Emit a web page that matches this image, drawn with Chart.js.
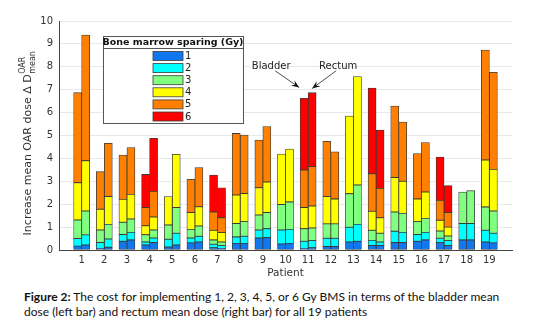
<!DOCTYPE html>
<html>
<head>
<meta charset="utf-8">
<script src="https://cdn.jsdelivr.net/npm/chart.js@4"></script>
<style>
  body { margin: 0; background: #fff; width: 533px; height: 326px; overflow: hidden; }
  #wrap { position: relative; width: 533px; height: 326px; }
  #chart { position: absolute; left: 0; top: 0; }
  #caption {
    position: absolute; left: 24px; top: 289px; width: 485px;
    font-family: Lato, "Liberation Sans", sans-serif; font-size: 12px; line-height: 15px; color: #111;
  }
</style>
</head>
<body>
<div id="wrap">
  <canvas id="chart" width="533" height="283"></canvas>
  <div id="caption"><b>Figure 2:</b> The cost for implementing 1, 2, 3, 4, 5, or 6 Gy BMS in terms of the bladder mean dose (left bar) and rectum mean dose (right bar) for all 19 patients</div>
</div>
<script>
const patients = ["1","2","3","4","5","6","7","8","9","10","11","12","13","14","15","16","17","18","19"];
const sparingLevels = ["1","2","3","4","5","6"];
const levelColors = ["#1177ee", "#00ffff", "#80ff80", "#ffff00", "#ff8000", "#ff0000"];
const yTicks = [0,1,2,3,4,5,6,7,8,9,10];

// cumulative heights (top of each segment), left bar = bladder
const bladderGy1 = [0.17,0.07,0.38,0.22,0.13,0.31,0.10,0.29,0.52,0.26,0.07,0.15,0.35,0.20,0.33,0.38,0.32,0.44,0.35];
const bladderGy2 = [0.50,0.33,0.68,0.35,0.47,0.52,0.25,0.57,0.87,0.87,0.38,0.51,0.99,0.42,0.82,0.68,0.51,1.16,0.86];
const bladderGy3 = [1.31,0.87,1.21,0.67,1.09,0.90,0.44,1.16,1.53,1.99,0.93,1.14,2.46,0.86,1.66,1.24,0.83,2.53,1.88];
const bladderGy4 = [2.94,1.78,2.21,1.06,2.33,1.64,0.86,2.40,2.72,4.19,1.86,2.33,5.85,1.69,3.17,2.23,1.30,null,3.93];
const bladderGy5 = [6.87,3.42,4.15,1.86,null,3.09,1.66,5.09,4.80,null,3.49,4.75,null,3.33,6.29,4.21,2.17,null,8.73];
const bladderGy6 = [null,null,null,3.30,null,null,3.27,null,null,null,6.62,null,null,7.07,null,null,4.06,null,null];

// right bar = rectum
const rectumGy1 = [0.22,0.12,0.44,0.33,0.22,0.35,0.07,0.29,0.55,0.29,0.10,0.15,0.38,0.20,0.33,0.44,0.20,0.44,0.31];
const rectumGy2 = [0.66,0.48,0.77,0.52,0.73,0.60,0.19,0.60,0.93,0.90,0.41,0.51,1.12,0.35,0.77,0.77,0.41,1.16,0.73];
const rectumGy3 = [1.70,1.12,1.35,0.87,1.86,1.05,0.35,1.24,1.64,2.10,0.96,1.14,2.84,0.73,1.60,1.38,0.61,2.59,1.70];
const rectumGy4 = [3.90,2.34,2.43,1.44,4.18,1.89,0.76,2.47,2.97,4.41,1.92,2.23,7.57,1.41,3.00,2.53,1.00,null,3.52];
const rectumGy5 = [9.39,4.66,4.47,2.56,null,3.60,1.41,5.02,5.39,null,3.64,4.29,null,2.69,5.59,4.69,1.64,null,7.76];
const rectumGy6 = [null,null,null,4.88,null,null,2.72,null,null,null,6.87,null,null,5.24,null,null,2.81,null,null];

const bladderLevels = [bladderGy1, bladderGy2, bladderGy3, bladderGy4, bladderGy5, bladderGy6];
const rectumLevels = [rectumGy1, rectumGy2, rectumGy3, rectumGy4, rectumGy5, rectumGy6];

// turn cumulative tops into segment heights, padded with an empty slot at each end (x range 0..20)
const segments = (levels) => levels.map((row, k) => {
  const seg = row.map((v, i) => {
    if (v == null) return null;
    let prev = 0;
    for (let j = k - 1; j >= 0; j--) {
      if (levels[j][i] != null) { prev = levels[j][i]; break; }
    }
    return +(v - prev).toFixed(3);
  });
  return [null, ...seg, null];
});

const bladderSeg = segments(bladderLevels);
const rectumSeg = segments(rectumLevels);

const makeSet = (stack, data, k) => ({
  label: sparingLevels[k],
  stack,
  data,
  backgroundColor: levelColors[k],
  borderColor: "#3a3a3a",
  borderWidth: 0.8,
  borderSkipped: false,
  barThickness: 8,
});

const datasets = [
  ...bladderSeg.map((d, k) => makeSet("bladder", d, k)),
  ...rectumSeg.map((d, k) => makeSet("rectum", d, k)),
];

const FONT = "'DejaVu Sans', sans-serif";

const decorations = {
  id: "decorations",
  afterDraw(chart) {
    const { ctx, chartArea, scales } = chart;
    const x = scales.x, y = scales.y;
    ctx.save();

    // y axis title with super/subscript
    ctx.translate(28, (chartArea.top + chartArea.bottom) / 2 + 8);
    ctx.rotate(-Math.PI / 2);
    ctx.fillStyle = "#333";
    ctx.textBaseline = "middle";
    ctx.font = `11px ${FONT}`;
    const main = "Increase mean OAR dose \u0394 D";
    const mw = ctx.measureText(main).width;
    ctx.font = `8px ${FONT}`;
    const sw = Math.max(ctx.measureText("OAR").width, ctx.measureText("mean").width);
    const x0 = -(mw + sw) / 2;
    ctx.font = `11px ${FONT}`;
    ctx.textAlign = "left";
    ctx.fillText(main, x0, 0);
    ctx.font = `8px ${FONT}`;
    ctx.fillText("OAR", x0 + mw + 0.5, -5);
    ctx.fillText("mean", x0 + mw + 0.5, 5);
    ctx.setTransform(1, 0, 0, 1, 0, 0);

    // legend box
    const bx = chartArea.left + 44, by = chartArea.top + 15, bw = 140, bh = 87;
    ctx.fillStyle = "#fff";
    ctx.fillRect(bx, by, bw, bh);
    ctx.strokeStyle = "#555";
    ctx.lineWidth = 1;
    ctx.strokeRect(bx + 0.5, by + 0.5, bw, bh);
    ctx.beginPath();
    ctx.moveTo(bx, by + 12.5);
    ctx.lineTo(bx + bw, by + 12.5);
    ctx.stroke();
    ctx.fillStyle = "#111";
    ctx.font = `bold 9.5px ${FONT}`;
    ctx.textAlign = "center";
    ctx.textBaseline = "middle";
    ctx.fillText("Bone marrow sparing (Gy)", bx + bw / 2, by + 6.5);
    ctx.font = `10px ${FONT}`;
    ctx.textAlign = "left";
    sparingLevels.forEach((lab, k) => {
      const cy = by + 20 + k * 12.1;
      ctx.fillStyle = levelColors[k];
      ctx.fillRect(bx + 50, cy - 4.5, 30, 9);
      ctx.strokeStyle = "#3a3a3a";
      ctx.lineWidth = 0.8;
      ctx.strokeRect(bx + 50, cy - 4.5, 30, 9);
      ctx.fillStyle = "#222";
      ctx.fillText(lab, bx + 82, cy + 0.5);
    });

    // Bladder / Rectum annotation around patient 11
    const cx = x.getPixelForValue(11);
    const ty = y.getPixelForValue(8);
    ctx.font = `10px ${FONT}`;
    ctx.textAlign = "center";
    ctx.fillStyle = "#222";
    ctx.fillText("Bladder", cx - 37, ty);
    ctx.fillText("Rectum", cx + 30, ty);
    const arrow = (x1, y1, x2, y2) => {
      ctx.strokeStyle = "#222";
      ctx.lineWidth = 0.8;
      ctx.beginPath();
      ctx.moveTo(x1, y1);
      ctx.lineTo(x2, y2);
      ctx.stroke();
      const a = Math.atan2(y2 - y1, x2 - x1);
      const L = 8, W = 3.2;
      const bx2 = x2 - L * Math.cos(a), by2 = y2 - L * Math.sin(a);
      const mx = x2 - 0.6 * L * Math.cos(a), my = y2 - 0.6 * L * Math.sin(a);
      ctx.fillStyle = "#111";
      ctx.beginPath();
      ctx.moveTo(x2, y2);
      ctx.lineTo(bx2 - W * Math.sin(a), by2 + W * Math.cos(a));
      ctx.lineTo(mx, my);
      ctx.lineTo(bx2 + W * Math.sin(a), by2 - W * Math.cos(a));
      ctx.closePath();
      ctx.fill();
    };
    const tip = y.getPixelForValue(7.1);
    arrow(cx - 33, ty + 4, cx - 9, tip);
    arrow(cx + 28, ty + 4, cx + 4, tip + 1);

    ctx.restore();
  },
};

new Chart(document.getElementById("chart"), {
  type: "bar",
  data: { labels: ["", ...patients, ""], datasets },
  options: {
    responsive: false,
    animation: false,
    layout: { padding: { top: 21, right: 21, left: 0, bottom: 0 } },
    plugins: { legend: { display: false }, tooltip: { enabled: false } },
    scales: {
      x: {
        stacked: true,
        offset: false,
        grid: { display: false, drawTicks: false },
        border: { color: "#444", width: 1 },
        ticks: {
          color: "#333",
          font: { family: FONT, size: 10 },
          padding: 4,
          autoSkip: false,
          maxRotation: 0,
        },
        title: {
          display: true,
          text: "Patient",
          color: "#333",
          font: { family: FONT, size: 10.5 },
          padding: { top: 0, bottom: 3 },
        },
        afterFit: (s) => { s.height = 33; },
      },
      y: {
        stacked: true,
        min: 0,
        max: 10,
        afterBuildTicks: (s) => { s.ticks = yTicks.map((v) => ({ value: v })); },
        grid: { color: "#e8e8e8", drawTicks: false },
        border: { color: "#444", width: 1 },
        ticks: {
          color: "#333",
          font: { family: FONT, size: 10 },
          padding: 6,
        },
        afterFit: (s) => { s.width = 59; },
      },
    },
  },
  plugins: [decorations],
});
</script>
</body>
</html>
